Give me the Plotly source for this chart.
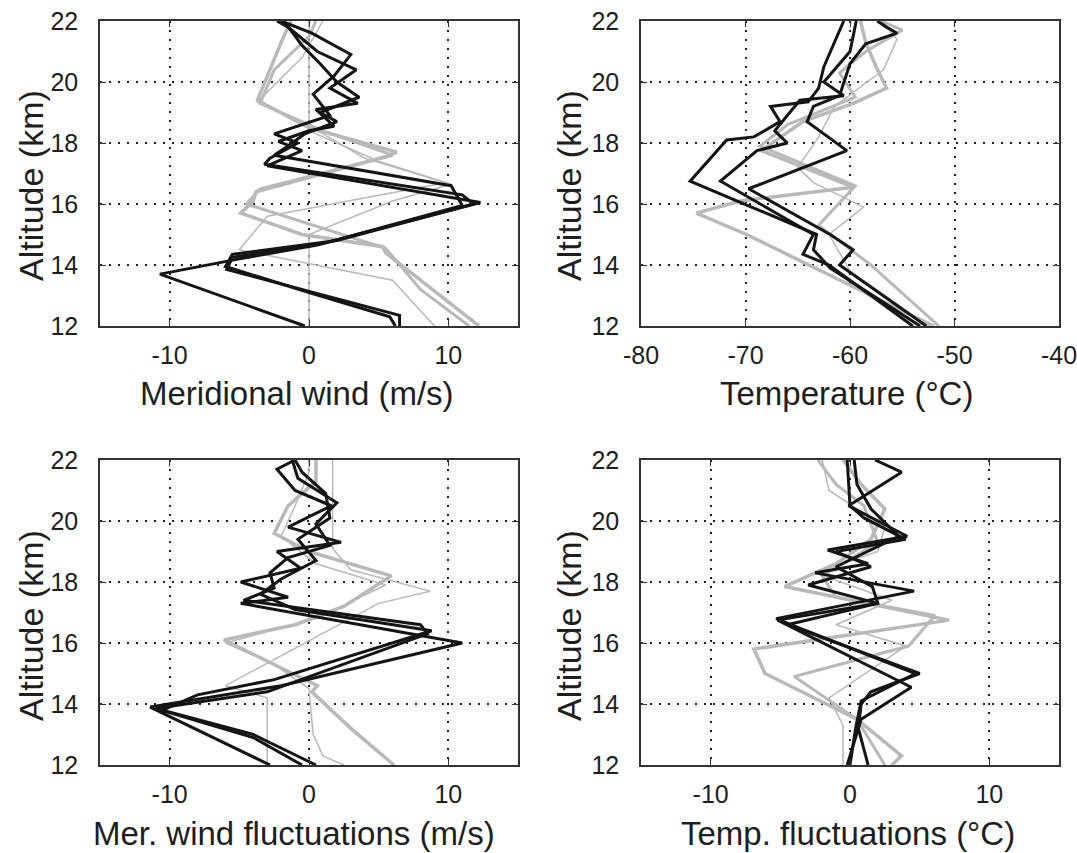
import plotly.graph_objects as go

# ---------------- DATA ----------------
# Panel 1: Meridional wind (m/s)
wind_black_alt = [
    [12.0, 13.7, 14.2, 14.65, 16.05, 17.25, 17.75, 18.05, 18.4, 18.55, 19.1, 19.3, 19.8, 20.4, 21.0, 21.8, 22.0],
    [12.0, 12.35, 13.85, 14.25, 14.7, 15.95, 16.6, 17.6, 17.9, 18.3, 18.7, 19.0, 19.5, 20.0, 20.6, 21.2, 22.0],
    [12.0, 12.3, 13.1, 13.95, 14.35, 14.8, 16.0, 16.3, 17.3, 17.5, 18.0, 18.3, 18.9, 19.6, 20.2, 20.9, 21.6, 22.0],
]
wind_black_val = [
    [-0.3, -10.7, -5.0, 0.5, 12.3, -3.0, -0.5, -2.2, 0.0, 1.8, 0.5, 3.5, 1.5, 3.4, 0.6, -1.5, -2.3],
    [6.5, 6.5, -5.9, -5.5, 1.0, 11.0, 10.2, -2.5, -1.5, -0.3, 2.0, 0.8, 3.6, 2.0, 0.8, -0.5, -1.8],
    [6.2, 5.8, 0.0, -6.0, -5.5, 2.0, 11.8, 11.0, -3.2, -2.8, -0.8, -2.5, 1.5, 0.3, 1.8, 3.0, 0.2, -2.0],
]
wind_gray_alt = [
    [12.0, 14.4, 14.6, 15.0, 15.7, 16.1, 16.4, 17.55, 17.7, 18.5, 19.4, 20.2, 21.3, 22.0],
    [12.0, 15.0, 16.1, 16.65, 17.4, 18.4, 22.0],
    [12.0, 13.5, 14.5, 15.6, 16.7, 17.5, 18.3, 19.35, 20.8, 22.0],
    [12.0, 13.2, 14.55, 15.2, 16.0, 16.5, 17.6, 18.4, 19.3, 20.4, 21.5, 22.0],
]
wind_gray_val = [
    [12.2, 5.5, 5.3, -0.5, -4.9, -4.0, -3.8, 5.5, 6.3, 0.0, -3.7, -3.0, -2.0, -1.3],
    [0.0, 0.0, 6.0, 10.2, 5.0, 0.0, 0.0],
    [9.0, 6.0, -5.0, -3.0, 9.8, 4.0, 1.0, -3.7, -0.5, 1.0],
    [11.5, 8.0, 5.5, 1.0, -4.5, -3.5, 6.0, 1.0, -3.5, -2.5, 0.0, 0.5],
]
wind_gray_width = [3.5, 1.5, 1.5, 3.0]

# Panel 2: Temperature (°C)
temp_black_alt = [
    [12.0, 13.9, 14.5, 15.0, 16.75, 18.1, 18.2, 18.7, 19.2, 19.35, 19.8, 20.5, 22.0],
    [12.0, 14.0, 14.35, 15.0, 16.75, 17.75, 18.0, 18.4, 19.4, 19.55, 20.0, 21.0, 22.0],
    [12.0, 14.0, 14.5, 15.0, 16.5, 17.15, 17.75, 18.7, 19.2, 19.55, 20.6, 21.25, 21.6, 21.8, 22.0],
]
temp_black_val = [
    [-53.3, -61.9, -63.5, -63.2, -75.3, -71.8, -69.2, -66.7, -67.6, -64.0, -63.0, -62.5, -60.6],
    [-54.0, -62.0, -64.5, -63.5, -72.4, -68.9, -66.0, -67.2, -64.8, -60.6, -62.5, -60.0, -59.4],
    [-52.7, -61.0, -59.7, -61.9, -69.7, -64.8, -60.3, -64.1, -63.5, -61.0, -60.0, -58.5, -55.5, -56.5, -57.4],
]
temp_gray_alt = [
    [12.0, 15.0, 15.7, 16.1, 16.55, 17.75, 18.7, 19.3, 19.8, 20.5, 21.3, 22.0],
    [12.0, 13.8, 15.0, 15.9, 16.7, 17.2, 18.2, 19.2, 20.4, 21.4, 22.0],
    [12.0, 14.0, 15.3, 16.6, 17.9, 18.6, 19.5, 20.3, 21.0, 21.7, 22.0],
]
temp_gray_val = [
    [-52.0, -69.9, -74.7, -70.5, -59.7, -68.5, -64.5, -59.7, -56.5, -57.5, -58.5, -59.0],
    [-52.5, -60.0, -62.0, -58.7, -63.5, -65.0, -63.0, -61.5, -56.8, -55.5, -57.0],
    [-51.5, -58.0, -63.0, -59.5, -68.6, -66.0, -59.5, -61.0, -58.5, -55.0, -57.0],
]
temp_gray_width = [3.5, 1.5, 3.0]

# Panel 3: Meridional wind fluctuations (m/s)
mwf_black_alt = [
    [12.0, 13.9, 14.6, 16.0, 17.3, 17.5, 18.0, 18.45, 19.0, 19.3, 19.8, 20.5, 21.0, 21.7, 22.0],
    [12.0, 12.9, 13.85, 14.4, 16.3, 16.6, 17.4, 17.8, 18.3, 18.8, 19.2, 19.9, 20.6, 21.4, 22.0],
    [12.0, 13.0, 13.8, 14.3, 14.8, 16.4, 17.1, 17.6, 18.1, 18.7, 19.4, 20.1, 20.9, 21.6, 22.0],
]
mwf_black_val = [
    [-2.8, -11.4, -2.0, 11.0, -4.9, -1.5, -4.9, -0.6, -2.3, 2.3, -1.5, 1.6, -1.0, -2.3, -1.0],
    [-0.5, -4.0, -11.0, -3.0, 8.5, 8.0, -4.7, -2.5, -2.8, -1.5, 1.5, 0.5, 2.0, -0.8, -1.2],
    [0.5, -4.0, -10.5, -8.0, -2.5, 8.8, -1.0, -3.5, -2.0, 0.5, -0.8, 1.5, 1.2, -0.5, -1.0],
]
mwf_gray_alt = [
    [12.0, 13.2, 14.4, 14.6, 16.1, 16.6, 17.2, 18.2, 19.0, 19.6, 20.5, 21.3, 22.0],
    [12.0, 14.2, 14.6, 16.2, 17.3, 17.7, 18.4, 19.1, 22.0],
    [12.0, 12.3, 13.0, 14.5, 15.3, 16.0, 16.8, 17.9, 18.6, 19.5, 20.5, 21.6, 22.0],
]
mwf_gray_val = [
    [6.1, 3.0, 0.2, 0.6, -6.1, -1.0, 2.5, 5.9, 0.0, -2.5, -1.5, 0.5, 0.5],
    [-3.0, -3.0, -6.0, 0.5, 5.0, 8.7, 3.0, 1.7, 1.7],
    [2.5, 1.0, 0.3, 0.0, -2.5, -6.0, 0.5, 5.5, 0.5, -2.0, -1.0, 0.0, 0.0],
]
mwf_gray_width = [3.5, 1.5, 1.5]

# Panel 4: Temperature fluctuations (°C)
tf_black_alt = [
    [12.0, 13.2, 14.1, 15.0, 16.5, 16.8, 17.7, 18.3, 18.6, 19.05, 19.5, 20.5, 21.6, 22.0],
    [12.0, 13.2, 14.0, 14.4, 15.0, 16.6, 17.3, 17.9, 18.5, 19.0, 19.4, 20.1, 20.5, 22.0],
    [12.0, 13.5, 14.55, 16.75, 17.3, 17.85, 18.5, 19.5, 20.4, 21.2, 22.0],
]
tf_black_val = [
    [0.0, 0.4, 0.8, 4.7, -3.7, -5.3, 4.6, -2.5, 1.3, -1.6, 4.1, -0.1, 3.7, 1.8],
    [1.3, 0.6, 0.8, 1.5, 5.0, -4.5, 2.0, -3.0, 1.5, -1.0, 4.0, 1.0, 0.0, -0.2],
    [-0.2, 0.8, 4.4, -5.2, 2.0, 1.6, -1.0, 3.5, 1.5, 0.5, 0.3],
]
tf_gray_alt = [
    [12.0, 12.3, 13.5, 15.0, 15.8, 16.75, 17.85, 18.6, 19.4, 20.4, 21.2, 22.0],
    [12.0, 13.5, 14.9, 15.9, 16.9, 17.5, 18.2, 19.3, 20.5, 21.2, 22.0],
    [12.0, 13.3, 14.2, 15.9, 16.6, 17.4, 18.3, 19.0, 19.8, 21.0, 22.0],
]
tf_gray_val = [
    [3.0, 3.7, 0.5, -6.1, -6.9, 7.1, -4.7, -1.0, 1.5, 2.5, 0.8, -0.5],
    [2.5, 0.5, -4.0, 4.2, 6.1, -1.0, -2.0, 2.0, 1.0, -1.0, -2.3],
    [-0.5, -0.5, -1.5, 4.0, -1.0, 3.0, -2.5, 2.0, 2.5, -1.5, -2.0],
]
tf_gray_width = [3.5, 3.0, 1.5]

alt_ticks = [12, 14, 16, 18, 20, 22]
alt_ticktext = ["12", "14", "16", "18", "20", "22"]
wind_ticks = [-10, 0, 10]
wind_ticktext = ["-10", "0", "10"]
temp_ticks = [-80, -70, -60, -50, -40]
temp_ticktext = ["-80", "-70", "-60", "-50", "-40"]

x_titles = ["Meridional wind (m/s)", "Temperature (°C)",
            "Mer. wind fluctuations (m/s)", "Temp. fluctuations (°C)"]
y_title = "Altitude (km)"

# ---------------- FIGURE ----------------
BLACK = "#141414"
GRAY = "#b9b9b9"
FONT = "Liberation Sans"
TXT = "#1e1e1e"

fig = go.Figure()

panels = [
    (wind_black_alt, wind_black_val, wind_gray_alt, wind_gray_val, wind_gray_width, "x", "y"),
    (temp_black_alt, temp_black_val, temp_gray_alt, temp_gray_val, temp_gray_width, "x2", "y2"),
    (mwf_black_alt, mwf_black_val, mwf_gray_alt, mwf_gray_val, mwf_gray_width, "x3", "y3"),
    (tf_black_alt, tf_black_val, tf_gray_alt, tf_gray_val, tf_gray_width, "x4", "y4"),
]

for balt, bval, galt, gval, gw, xa, ya in panels:
    for a, v, w in zip(galt, gval, gw):
        fig.add_trace(go.Scatter(x=v, y=a, mode="lines", xaxis=xa, yaxis=ya,
                                 line=dict(color=GRAY, width=w), showlegend=False,
                                 hoverinfo="skip"))
    for a, v in zip(balt, bval):
        fig.add_trace(go.Scatter(x=v, y=a, mode="lines", xaxis=xa, yaxis=ya,
                                 line=dict(color=BLACK, width=3), showlegend=False,
                                 hoverinfo="skip"))

W, H = 1077, 853
def px_x(p):
    return p / W
def px_y(p):
    return 1 - p / H

xdom_left = [px_x(100), px_x(518)]
xdom_right = [px_x(641), px_x(1059)]
ydom_top = [px_y(326), px_y(21)]
ydom_bot = [px_y(765), px_y(460)]

common = dict(
    showline=True, linecolor="#333333", linewidth=1.5, mirror="ticks",
    ticks="inside", ticklen=6, tickwidth=1.2, tickcolor="#333333",
    showgrid=True, gridcolor="#222222", gridwidth=2, griddash="2px,7px",
    zeroline=False, ticklabeloverflow="allow", automargin=False,
    tickfont=dict(family=FONT, size=25, color=TXT),
)

def xax(dom, rng, tv, tt, anchor):
    d = dict(common)
    d.update(domain=dom, range=rng, tickvals=tv, ticktext=tt, anchor=anchor,
             ticklabelstandoff=6)
    return d

def yax(dom, anchor):
    d = dict(common)
    d.update(domain=dom, range=[12, 22], tickvals=alt_ticks, ticktext=alt_ticktext,
             anchor=anchor, ticklabelstandoff=15)
    return d

fig.update_layout(
    width=W, height=H,
    margin=dict(l=0, r=0, t=0, b=0),
    paper_bgcolor="white", plot_bgcolor="white",
    showlegend=False,
    xaxis=xax(xdom_left, [-15, 15], wind_ticks, wind_ticktext, "y"),
    yaxis=yax(ydom_top, "x"),
    xaxis2=xax(xdom_right, [-80, -40], temp_ticks, temp_ticktext, "y2"),
    yaxis2=yax(ydom_top, "x2"),
    xaxis3=xax(xdom_left, [-15, 15], wind_ticks, wind_ticktext, "y3"),
    yaxis3=yax(ydom_bot, "x3"),
    xaxis4=xax(xdom_right, [-15, 15], wind_ticks, wind_ticktext, "y4"),
    yaxis4=yax(ydom_bot, "x4"),
)

# Axis titles as annotations
xt_pos = [(297, 393), (846, 393), (294, 833), (848, 833)]
for t, (cx, cy) in zip(x_titles, xt_pos):
    fig.add_annotation(text=t, x=px_x(cx), y=px_y(cy), xref="paper", yref="paper",
                       showarrow=False, xanchor="center", yanchor="middle",
                       font=dict(family=FONT, size=33, color=TXT))
yt_pos = [(31, 186), (569, 186), (31, 626), (569, 626)]
for (cx, cy) in yt_pos:
    fig.add_annotation(text=y_title, x=px_x(cx), y=px_y(cy), xref="paper", yref="paper",
                       showarrow=False, xanchor="center", yanchor="middle", textangle=-90,
                       font=dict(family=FONT, size=34, color=TXT))

fig.write_html("out.html")
